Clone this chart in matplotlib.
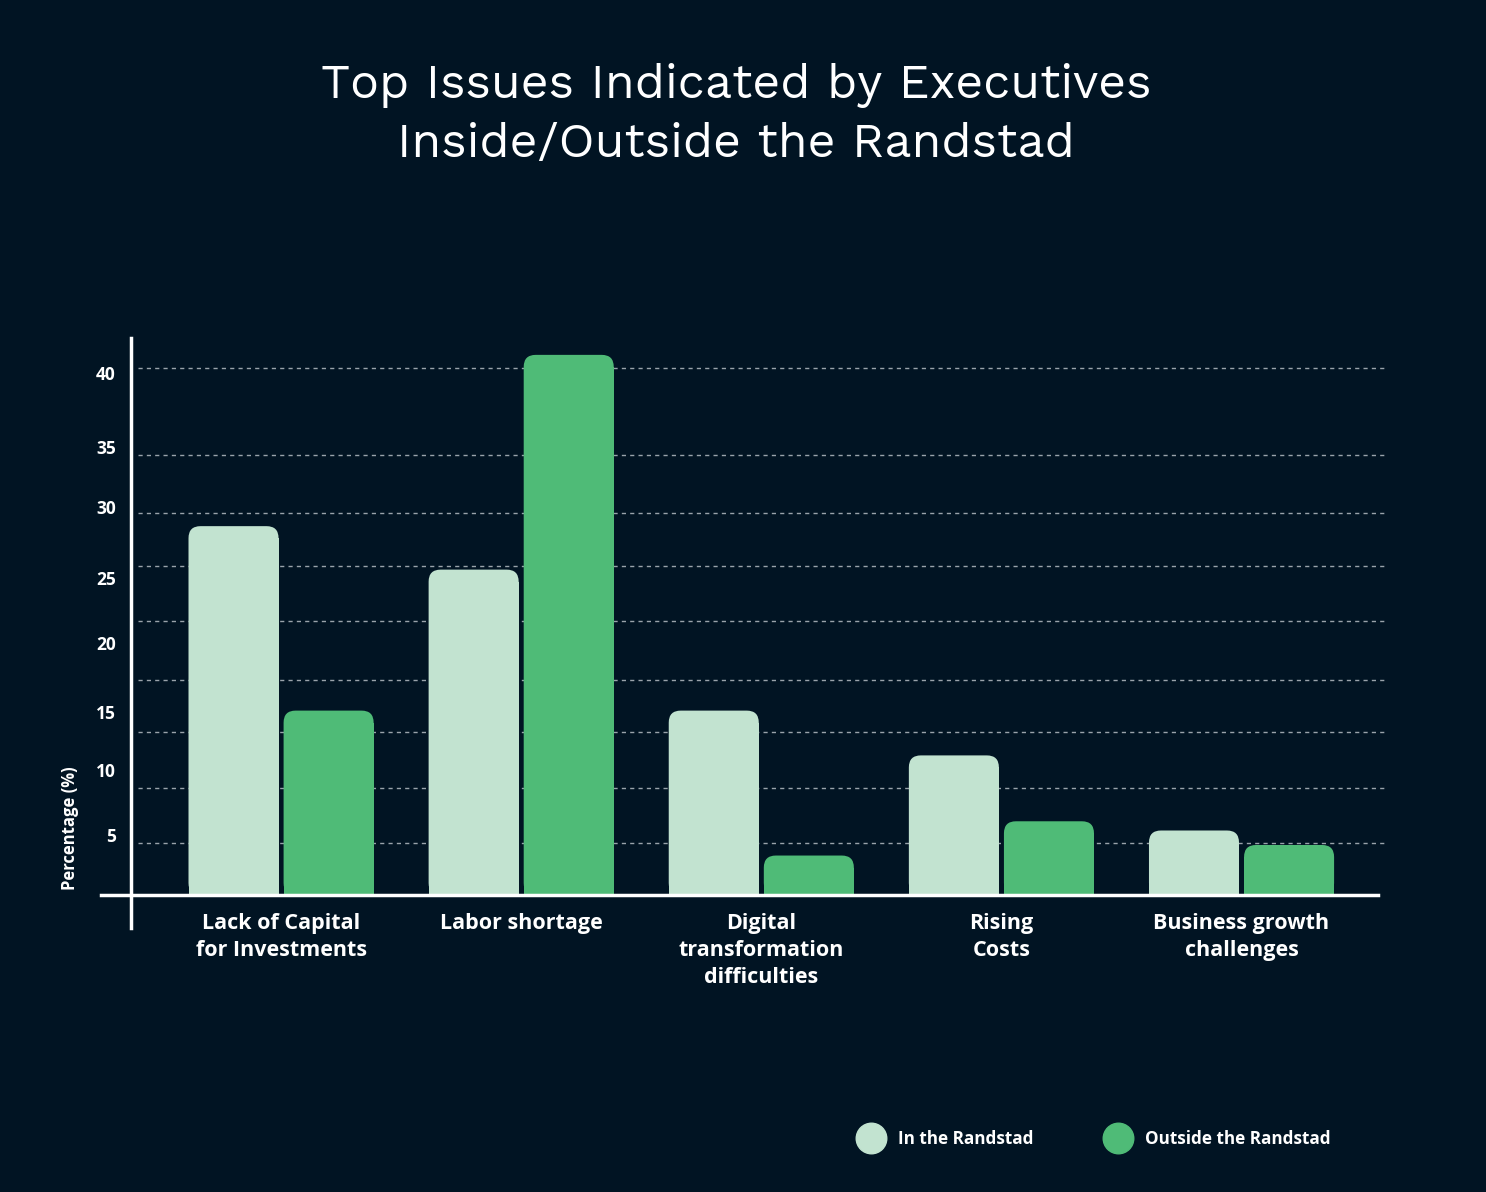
import matplotlib.pyplot as plt
from matplotlib.patches import FancyBboxPatch
from matplotlib.lines import Line2D
import numpy as np

# data
categories = ["Lack of Capital\nfor Investments", "Labor shortage",
              "Digital\ntransformation\ndifficulties", "Rising\nCosts",
              "Business growth\nchallenges"]
in_randstad = [28, 24.7, 14, 10.6, 4.9]
outside_randstad = [14, 41, 3, 5.6, 3.8]
series_names = ["In the Randstad", "Outside the Randstad"]

# the y labels and grid lines in the original are not aligned with each other
tick_labels = ["5", "10", "15", "20", "25", "30", "35", "40"]
tick_pos = [4.55, 9.5, 13.9, 19.1, 24.1, 29.45, 34.0, 39.6]
grid_levels = [3.95, 8.15, 12.4, 16.35, 20.8, 24.95, 29.0, 33.4, 40.0]

BG = "#011423"
LIGHT = "#C2E3D0"
GREEN = "#4FBB77"
BOLD = ['Open Sans', 'DejaVu Sans']

plt.rcParams['font.family'] = ['Work Sans', 'Lato', 'DejaVu Sans']

fig = plt.figure(figsize=(14.86, 11.92), dpi=100, facecolor=BG)
ax = fig.add_axes([131/1486, 1-928/1192, (1388-131)/1486, (928-338)/1192])
ax.set_facecolor(BG)

x = np.arange(len(categories))
width = 0.375
off = 0.198
ax.set_xlim(-0.625, 4.61)
ax.set_ylim(-2.5, 42.28)

# px per unit, for round corners
sx = 240.0
sy = 13.175
r = 0.05
aspect = sx / sy

for vals, sign, col in [(in_randstad, -1, LIGHT), (outside_randstad, 1, GREEN)]:
    for xi, v in zip(x, vals):
        left = xi + sign * off - width / 2
        ax.bar(xi + sign * off, v - r * aspect, width=width, color=col, zorder=3)
        p = FancyBboxPatch((left, 0), width, v,
                           boxstyle="round,pad=0,rounding_size=%f" % r,
                           mutation_aspect=aspect, facecolor=col,
                           edgecolor='none', zorder=3)
        ax.add_patch(p)

for g in grid_levels:
    ax.axhline(g, xmin=7/1257, xmax=1.0, color='#9aa3ab', lw=1,
               ls=(0, (3, 3)), zorder=1)

ax.axhline(0, xmin=-30/1257, xmax=(1378-131)/1257, color='white', lw=2.5,
           clip_on=False, zorder=4)

for s in ['top', 'right', 'bottom']:
    ax.spines[s].set_visible(False)
ax.spines['left'].set_color('white')
ax.spines['left'].set_linewidth(2.5)

ax.set_yticks(tick_pos)
ax.set_yticklabels(tick_labels, color='white', fontsize=12.5, fontweight='bold',
                   family=BOLD)
ax.tick_params(axis='y', length=0, pad=11)
ax.set_xticks([])

for xi, c in zip(x, categories):
    ax.text(xi, -1.35, c, ha='center', va='top', color='white', fontsize=15.5,
            fontweight='bold', family=BOLD, linespacing=1.37)

fig.text(70/1486, 1-890/1192, "Percentage (%)", rotation=90, color='white',
         fontsize=12, fontweight='bold', family=BOLD, ha='center', va='bottom')

fig.text(736/1486, 1-115/1192,
         "Top Issues Indicated by Executives\nInside/Outside the Randstad",
         ha='center', va='center', color='white', fontsize=34.8,
         linespacing=1.42)

handles = [Line2D([], [], marker='o', ls='none', markersize=22, color=LIGHT),
           Line2D([], [], marker='o', ls='none', markersize=22, color=GREEN)]
leg = fig.legend(handles, series_names, loc='center left',
                 bbox_to_anchor=(854/1486, 1-1139/1192), ncol=2, frameon=False,
                 prop={'family': BOLD, 'weight': 'bold', 'size': 12.3},
                 handletextpad=0.6, columnspacing=3.9, handlelength=2.0,
                 borderaxespad=0, borderpad=0)
for t in leg.get_texts():
    t.set_color('white')

fig.savefig("out.png", dpi=100, facecolor=BG)
